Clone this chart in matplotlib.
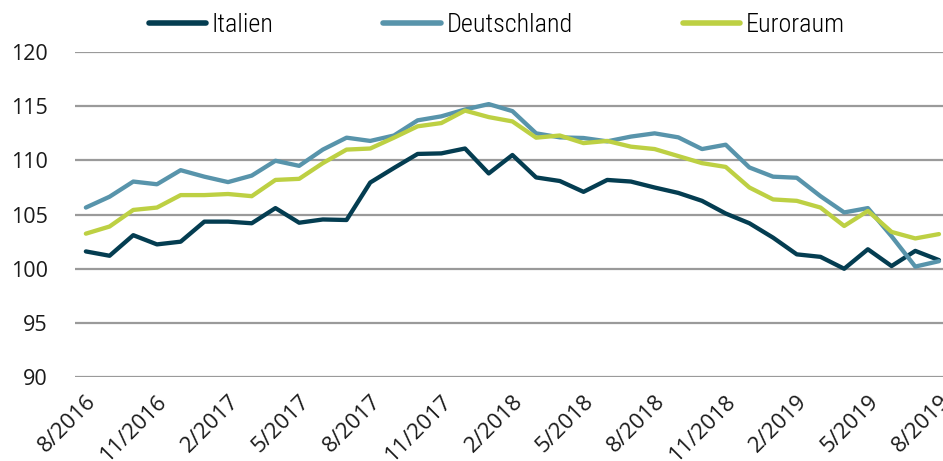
import matplotlib.pyplot as plt

months = [f'{(7 + i) % 12 + 1}/{2016 + (7 + i) // 12}' for i in range(37)]

italien = [101.6, 101.2, 103.1, 102.25, 102.5, 104.35, 104.35, 104.2, 105.6, 104.25,
           104.55, 104.5, 107.96, 109.3, 110.6, 110.65, 111.1, 108.8, 110.5, 108.43,
           108.1, 107.1, 108.2, 108.05, 107.5, 107.0, 106.27, 105.1, 104.2, 102.87,
           101.33, 101.1, 100.0, 101.8, 100.25, 101.65, 100.8]
deutschland = [105.65, 106.65, 108.05, 107.8, 109.1, 108.5, 108.0, 108.6, 109.97, 109.5,
               111.0, 112.1, 111.8, 112.3, 113.7, 114.07, 114.7, 115.2, 114.55, 112.5,
               112.13, 112.07, 111.76, 112.2, 112.5, 112.13, 111.05, 111.45, 109.35, 108.5,
               108.4, 106.7, 105.2, 105.6, 103.0, 100.2, 100.7]
euroraum = [103.24, 103.9, 105.43, 105.65, 106.8, 106.8, 106.9, 106.7, 108.2, 108.3,
            109.75, 111.0, 111.1, 112.1, 113.15, 113.45, 114.6, 114.0, 113.6, 112.1,
            112.3, 111.6, 111.8, 111.27, 111.05, 110.4, 109.75, 109.4, 107.5, 106.4,
            106.27, 105.65, 103.95, 105.34, 103.4, 102.8, 103.2]

names = ['Italien', 'Deutschland', 'Euroraum']
colors = ['#043d51', '#5894ab', '#bdd043']

plt.rcParams['font.family'] = ['Open Sans', 'DejaVu Sans']

fig = plt.figure(figsize=(9.43, 4.61), dpi=100)
ax = fig.add_axes([0.0795, 0.182, 0.9205, 0.705])

x = list(range(len(months)))
for name, vals, c in zip(names, [italien, deutschland, euroraum], colors):
    ax.plot(x, vals, color=c, lw=3.1, label=name, solid_capstyle='round', zorder=3)

ax.set_ylim(90, 120)
ax.set_xlim(-0.46, 36.17)
ax.set_yticks(range(90, 121, 5))
ax.yaxis.grid(True, color='#9a9a9a', lw=1.6, zorder=0)
for s in ax.spines.values():
    s.set_visible(False)
ax.tick_params(axis='both', length=0, colors='#1a1a1a')
ax.tick_params(axis='y', labelsize=15.5, pad=19.5)
ax.set_xticks(x[::3])
ax.set_xticklabels(months[::3], rotation=45, ha='right', rotation_mode='anchor',
                   fontsize=16)
ax.tick_params(axis='x', pad=10)

# legend, schmale Schrift wie im Original
leg = ax.legend(loc='center left', bbox_to_anchor=(0.085, 1.084), ncol=3, frameon=False,
                handlelength=2.2, handletextpad=0.22, columnspacing=4.2,
                borderpad=0, borderaxespad=0,
                prop={'family': ['Roboto Condensed', 'DejaVu Sans'], 'size': 18.8,
                      'weight': 'light'})
for h in leg.get_lines():
    h.set_linewidth(4)

fig.savefig('out.png', dpi=100)
